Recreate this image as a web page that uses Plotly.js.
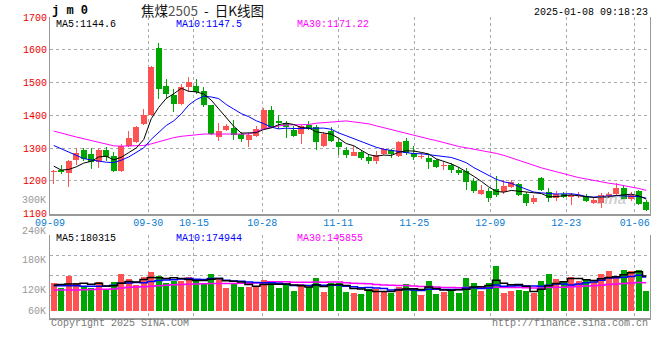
<!DOCTYPE html>
<html><head><meta charset="utf-8">
<script src="https://cdn.plot.ly/plotly-3.0.1.min.js"></script>
<style>html,body{margin:0;padding:0;background:#fff}#chart{width:660px;height:360px}</style>
</head><body><div id="chart"></div>
<script>
const dates = ['09-09','09-10','09-11','09-12','09-13','09-18','09-19','09-20','09-23','09-24',
'09-25','09-26','09-27','09-30','10-08','10-09','10-10','10-11','10-14','10-15',
'10-16','10-17','10-18','10-21','10-22','10-23','10-24','10-25','10-28','10-29',
'10-30','10-31','11-01','11-04','11-05','11-06','11-07','11-08','11-11','11-12',
'11-13','11-14','11-15','11-18','11-19','11-20','11-21','11-22','11-25','11-26',
'11-27','11-28','11-29','12-02','12-03','12-04','12-05','12-06','12-09','12-10',
'12-11','12-12','12-13','12-16','12-17','12-18','12-19','12-20','12-23','12-24',
'12-25','12-26','12-27','12-30','12-31','01-02','01-03','01-06','01-07','01-08'];
const open  = [1228,1233,1223,1265,1293,1281,1257,1293,1275,1229,1306,1318,1373,1400,1605,1489,1461,1435,1487,1489,
1473,1431,1334,1355,1362,1342,1325,1338,1359,1415,1384,1376,1356,1342,1372,1365,1305,1351,1320,1294,
1277,1289,1274,1261,1282,1294,1277,1321,1284,1274,1270,1264,1247,1249,1234,1231,1200,1160,1169,1176,
1167,1180,1190,1160,1135,1210,1167,1147,1160,1152,1155,1155,1134,1134,1154,1160,1178,1145,1168,1137];
const high  = [1234,1250,1263,1301,1301,1299,1299,1303,1289,1314,1351,1368,1418,1550,1620,1510,1480,1495,1518,1510,
1488,1433,1378,1375,1385,1349,1345,1369,1422,1430,1402,1383,1368,1372,1383,1371,1348,1364,1328,1303,
1308,1294,1282,1290,1300,1297,1323,1331,1306,1284,1282,1267,1258,1256,1241,1239,1208,1188,1178,1216,
1203,1203,1193,1167,1157,1213,1178,1169,1167,1162,1167,1159,1147,1162,1167,1193,1183,1165,1172,1141];
const low   = [1191,1220,1182,1250,1260,1237,1240,1260,1228,1228,1303,1316,1370,1398,1449,1449,1410,1433,1470,1464,
1424,1339,1321,1352,1325,1319,1303,1335,1357,1362,1359,1330,1335,1313,1356,1295,1304,1320,1280,1269,
1275,1265,1251,1251,1280,1270,1272,1280,1265,1267,1236,1239,1233,1223,1218,1172,1164,1157,1135,1152,
1160,1178,1155,1122,1129,1170,1135,1139,1148,1127,1147,1136,1131,1118,1147,1157,1145,1140,1128,1108];
const close = [1231,1227,1262,1284,1268,1258,1293,1273,1230,1306,1330,1364,1402,1547,1480,1465,1435,1485,1502,1471,
1432,1342,1351,1367,1341,1328,1341,1359,1415,1366,1377,1364,1338,1369,1359,1320,1344,1323,1303,1280,
1287,1270,1261,1279,1297,1282,1318,1284,1274,1277,1258,1243,1249,1233,1224,1196,1169,1172,1147,1157,
1183,1196,1157,1134,1149,1172,1147,1159,1152,1157,1157,1139,1142,1157,1160,1178,1145,1158,1130,1112];
const ma5  = [1245,1233,1235,1243,1254.4,1259.8,1273,1275.2,1264.4,1272,1286.4,1300.6,1326.4,1389.8,1424.6,1451.6,1465.8,1482.4,1473.4,1471.6,
1465,1446.4,1419.6,1392.6,1366.6,1345.8,1345.6,1347.2,1356.8,1361.8,1371.6,1376.2,1372,1362.8,1361.4,1350,1346,1343,1329.8,1314,
1307.4,1292.6,1280.2,1275.4,1278.8,1277.8,1287.4,1292,1291,1287,1282.2,1267.2,1260.2,1252,1241.4,1229,1214.2,1198.8,1181.6,1168.2,
1165.6,1171,1168,1165.4,1163.8,1161.6,1151.8,1152.2,1155.8,1157.4,1154.4,1152.8,1149.4,1150.4,1151,1155.2,1156.4,1159.6,1154.2,1144.6];
const ma10 = [1308,1298,1288,1278,1268,1264,1260,1257,1256,1263.2,1273.1,1286.8,1300.8,1327.1,1348.3,1369,1383.2,1404.4,1431.6,1448.1,
1458.3,1456.1,1451,1433,1419.1,1405.4,1396,1383.4,1374.7,1364.2,1358.7,1360.9,1359.6,1359.8,1361.6,1360.8,1361.1,1357.5,1346.3,1337.7,
1328.7,1319.3,1311.6,1302.6,1296.4,1292.6,1290,1286.1,1283.2,1282.9,1280,1277.3,1276.1,1271.5,1264.2,1255.6,1240.7,1229.5,1216.8,1204.8,
1197.3,1192.6,1183.4,1173.5,1166,1163.6,1161.4,1160.1,1160.6,1160.6,1158,1152.3,1150.8,1153.1,1154.2,1154.8,1154.6,1154.5,1152.3,1147.5];
const ma30 = [1352,1347,1340,1334,1329,1324,1318,1312,1307,1306,1306,1306,1308,1313,1320,1326,1332,1336,1339,1342,
1343,1343,1343,1343,1343,1343,1343,1350,1359,1364,1368,1371,1371,1371,1372,1376,1378,1380,1383,1383,
1380,1378,1374,1368,1362,1356,1351,1345,1339,1333,1328,1323,1317,1310,1305,1301,1297,1293,1289,1284,
1278,1270,1262,1254,1247,1240,1234,1228,1222,1215,1210,1206,1201,1197,1193,1190,1186,1183,1177,1171.22];
const volumeK = [144,118,182,144,124,118,149,108,149,190,165,134,175,201,182,144,155,155,175,155,
144,190,170,118,144,124,124,129,160,155,118,134,103,139,124,170,98,144,144,98,
93,88,113,113,98,93,124,139,118,82,155,88,98,113,93,170,144,103,144,232,
93,103,108,103,93,155,190,165,149,175,155,160,149,190,206,175,211,206,211,103];
const volMa5K = [134,136,139,139,142.4,137.2,143.4,128.6,129.6,142.8,152.2,149.2,162.6,173,171.4,167.2,171.4,167.4,162.2,156.8,
156.8,163.8,166.8,155.4,153.2,149.2,136,127.8,136.2,138.4,137.2,139.2,134,129.8,123.6,134,126.8,135,136,130.8,
115.4,113.4,107.2,101,101,101,108.2,113.4,114.4,111.2,123.6,116.4,108.2,107.2,109.4,112.4,123.6,124.6,130.8,158.6,
143.2,135,136,127.8,100,112.4,129.8,141.2,150.4,166.8,166.8,160.8,157.6,165.8,172,176,186.2,197.6,201.8,180.3];
const volMa10K = [130,130,130,130,128,128,127,128,132,142.6,144.7,146.3,145.6,151.3,157.1,159.7,160.3,165,167.6,164.1,
162,167.6,167.1,158.8,155,153,149.9,147.3,145.8,145.8,143.2,137.6,130.9,133,131,135.6,133,134.5,132.9,127.2,
124.7,120.1,121.1,118.5,115.9,108.2,110.8,110.3,107.7,106.1,112.3,112.3,110.8,110.8,110.3,118,120,116.4,119,134,
127.8,129.3,130.3,129.3,129.3,127.8,132.4,138.6,139.1,133.4,139.6,145.3,149.4,158.1,169.4,171.4,173.5,177.6,183.8,174.9];
const volMa30K = [108,108,108,108,109,111,112,112,113,118,122,124,125,127,130,133,135,137,138,139,
140,141,142,142,142,143,143,144,145,150.8,150,150.5,147.9,147.7,147.7,149.4,147.7,148.9,148.8,145.7,
143.3,141.8,139.7,136.8,134,132.3,131.2,130.7,128.8,126.4,126.7,123.3,120.9,120.8,119.1,120.6,121.3,120.4,119.9,122.4,
121.6,120.6,120.7,119.5,118.5,118,121.1,121.8,121.9,124.5,126.6,129,130.2,132.7,136.3,139.1,142,144.2,147.3,145.9];
const tickDates = ['09-09','09-30','10-15','10-28','11-11','11-25','12-09','12-23','01-06'];
const priceTicks = [1100,1200,1300,1400,1500,1600,1700];
const volLabels = ['240K','180K','120K','60K'];
const legendPrice = ['MA5:1144.6','MA10:1147.5','MA30:1171.22'];
const legendVol = ['MA5:180315','MA10:174944','MA30:145855'];

// ---- styling / layout helpers ----
const RED = '#ff5353', GREEN = '#00a600';
const MONO = 'Liberation Mono, DejaVu Sans Mono, monospace';
const PL = 50, PR = 650, PT = 17, PB = 318;
const px = x => (x - PL) / (PR - PL);
const py = y => (PB - y) / (PB - PT);
const volPerPx = 5.15, volZeroY = 311, volTopY = 235;
const volAtY = y => (volZeroY - y) * volPerPx;

const xi = dates.map((d, i) => i);
const cols = close.map((c, i) => c >= open[i] ? RED : GREEN);
const bodyBase = close.map((c, i) => Math.min(c, open[i]));
const bodyH = close.map((c, i) => Math.max(Math.abs(c - open[i]), 3));
const wickH = high.map((h, i) => h - low[i]);
const tickPos = tickDates.map(d => {
  const i = dates.indexOf(d);
  return Math.max(-0.5, i + (-4.25 + 0.1 * i) / 7.5);
});

const traces = [
  {type:'bar', x:xi, y:wickH, base:low, width:0.14, marker:{color:cols, line:{width:0}}, xaxis:'x', yaxis:'y', hoverinfo:'skip'},
  {type:'bar', x:xi, y:bodyH, base:bodyBase, width:0.8, marker:{color:cols, line:{width:0}}, xaxis:'x', yaxis:'y', hoverinfo:'skip'},
  {type:'scatter', mode:'lines', x:xi, y:ma30, line:{color:'#ff00ff', width:1}, xaxis:'x', yaxis:'y'},
  {type:'scatter', mode:'lines', x:xi, y:ma10, line:{color:'#0000ff', width:1}, xaxis:'x', yaxis:'y'},
  {type:'scatter', mode:'lines', x:xi, y:ma5, line:{color:'#000000', width:1}, xaxis:'x', yaxis:'y'},
  {type:'bar', x:xi, y:volumeK, width:0.8, marker:{color:cols, line:{width:0}}, xaxis:'x2', yaxis:'y2', hoverinfo:'skip'},
  {type:'scatter', mode:'lines', x:xi, y:volMa30K, line:{color:'#ff00ff', width:1.5, shape:'hvh'}, xaxis:'x2', yaxis:'y2'},
  {type:'scatter', mode:'lines', x:xi, y:volMa10K, line:{color:'#0000ff', width:1.5, shape:'hvh'}, xaxis:'x2', yaxis:'y2'},
  {type:'scatter', mode:'lines', x:xi, y:volMa5K, line:{color:'#000000', width:1.5, shape:'hvh'}, xaxis:'x2', yaxis:'y2'}
];

const ann = [];
const addText = (text, x, y, color, size, xanchor, family) => ann.push({
  text, x:px(x), y:py(y), xref:'paper', yref:'paper', showarrow:false,
  xanchor:xanchor || 'left', yanchor:'middle', font:{family:family || MONO, size:size || 10, color}
});
addText('<b>j m 0</b>', 50, 11, '#000', 12);
addText('焦煤<span style="color:#555">2505</span>  -  日K线图', 139, 10, '#111', 13.5, 'left', 'Noto Sans CJK SC, sans-serif');
addText('2025-01-08 09:18:23', 650, 12, '#000', 10, 'right');
const legX = [54, 174, 295], legC = ['#000', '#0000ff', '#ff00ff'];
legendPrice.forEach((t, k) => addText(t, legX[k], 24, legC[k], 10));
legendVol.forEach((t, k) => addText(t, legX[k], 238.5, legC[k], 10));
const volLabelY = [231, 260.7, 290.7, 311];
volLabels.forEach((t, k) => addText(t, 48, volLabelY[k], '#999', 10, 'right'));
addText('300K', 48, 200, '#999', 10, 'right');
addText('Copyright 2025 SINA.COM', 49, 323.5, '#777', 10);
addText('http://finance.sina.com.cn', 650, 323.5, '#777', 10, 'right');
ann.push({text:'<i><b>sina</b></i>', x:px(628), y:py(198), xref:'paper', yref:'paper', showarrow:false,
  font:{family:'Liberation Sans, sans-serif', size:15, color:'rgba(150,150,150,0.45)'}});

const gridDot = {showgrid:true, gridcolor:'#aaaaaa', griddash:'dot', gridwidth:1};
const volGrid = [295.7, 275.7, 255.7, volTopY].map(volAtY);

const layout = {
  width:660, height:360, margin:{l:PL, r:660 - PR, t:PT, b:360 - PB},
  paper_bgcolor:'#fff', plot_bgcolor:'#fff', showlegend:false,
  barmode:'overlay', bargap:0, hovermode:false,
  font:{family:MONO, size:10, color:'#444'},
  xaxis:Object.assign({domain:[0,1], anchor:'y', range:[-0.5, 79.5], tickmode:'array', tickvals:tickPos, ticktext:tickDates,
    ticks:'', ticklabelstandoff:-2, tickfont:{family:MONO, size:10, color:'#0a7bd1'}, showline:true, linecolor:'#999', linewidth:2,
    zeroline:false, fixedrange:true}, gridDot),
  yaxis:Object.assign({domain:[py(213.7), 1], anchor:'x', range:[1100, 1700], tickmode:'array', tickvals:priceTicks,
    ticks:'', tickfont:{family:MONO, size:10, color:'#ee0000'}, showline:true, mirror:true, linecolor:'#999', linewidth:1,
    zeroline:false, fixedrange:true}, gridDot),
  xaxis2:Object.assign({domain:[0,1], anchor:'y2', matches:'x', range:[-0.5, 79.5], tickmode:'array', tickvals:tickPos,
    showticklabels:false, ticks:'', showline:true, linecolor:'#999', linewidth:2, zeroline:false}, gridDot),
  yaxis2:Object.assign({domain:[0, py(volTopY)], anchor:'x2', range:[volAtY(PB), volAtY(volTopY)], tickmode:'array',
    tickvals:volGrid, showticklabels:false, ticks:'', showline:true, mirror:true, linecolor:'#999', linewidth:1,
    zeroline:false, fixedrange:true}, gridDot),
  annotations:ann
};

Plotly.newPlot('chart', traces, layout, {staticPlot:true, displayModeBar:false});
</script></body></html>
